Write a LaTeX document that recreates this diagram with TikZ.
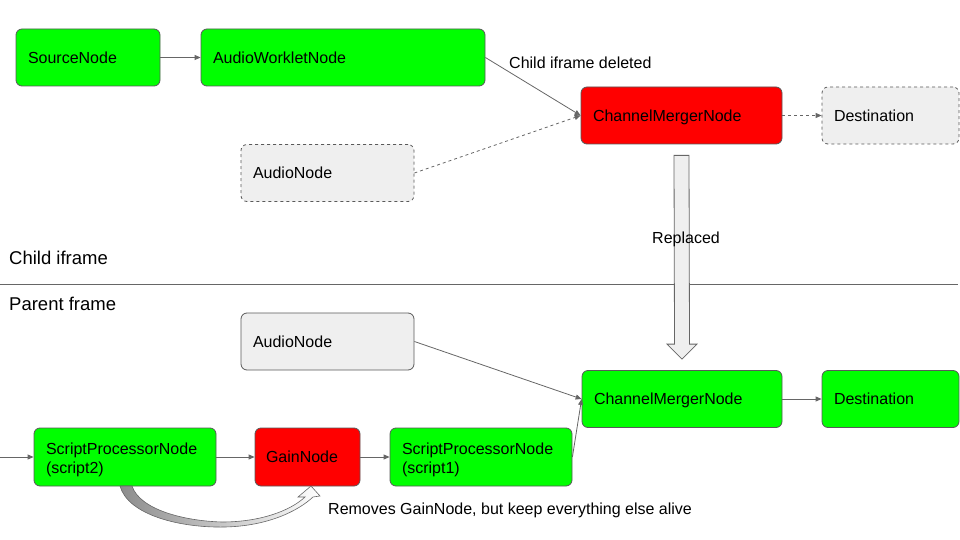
\documentclass[tikz,border=0pt]{standalone}
\usepackage{fontspec}
\setmainfont{Liberation Sans}
\usetikzlibrary{arrows.meta}
\usetikzlibrary{calc}
\definecolor{boxgreen}{HTML}{00FF00}
\definecolor{boxred}{HTML}{FF0000}
\definecolor{boxgray}{HTML}{EFEFEF}
\definecolor{edgegray}{HTML}{595959}
\definecolor{linegray}{HTML}{666666}

\begin{document}
\begin{tikzpicture}[x=1pt,y=-1pt,
    font=\fontsize{16}{19}\selectfont,
    box/.style={draw=edgegray,line width=0.8pt,rounded corners=6pt,inner xsep=12pt,
      minimum height=57pt,text depth=0pt,align=left},
    twoline/.style={minimum height=58pt,text depth=16pt},
    live/.style={box,fill=boxgreen},
    dead/.style={box,fill=boxred},
    idle/.style={box,fill=boxgray},
    gone/.style={box,fill=boxgray,dashed},
    wire/.style={draw=linegray,line width=0.8pt,-{Triangle[length=6pt,width=5pt]}},
    hollow/.style={draw=linegray,line width=0.8pt,fill=boxgray},
    note/.style={anchor=west,inner sep=0pt},
    framelabel/.style={note,font=\fontsize{18.5}{22}\selectfont}]
  \useasboundingbox (0,0) rectangle (960,540);
  % child iframe
  \node[live,text width=120pt] (src) at (88,57.5) {SourceNode};
  \node[live,text width=260pt] (worklet) at (343,57.5) {AudioWorkletNode};
  \node[dead,text width=177pt] (merger1) at (681.5,115.5) {ChannelMergerNode};
  \node[gone,text width=113pt] (dest1) at (890.5,115.5) {Destination};
  \node[gone,text width=149pt] (audio1) at (327.5,173) {AudioNode};
  \draw[wire] (src) -- (worklet);
  \draw[wire] (worklet.east) -- (merger1.west);
  \draw[wire,dashed] (audio1.east) -- (merger1.west);
  \draw[wire,dashed] (merger1) -- (dest1);
  \node[note] (deleted) at (509,62.5) {Child iframe deleted};
  % parent frame
  \node[idle,text width=149pt] (audio2) at (327.5,341.5) {AudioNode};
  \node[live,text width=176pt] (merger2) at (682,399) {ChannelMergerNode};
  \node[live,text width=113pt] (dest2) at (890.5,399) {Destination};
  \node[live,twoline,text width=158pt] (sp2) at (125,457) {ScriptProcessorNode\\(script2)};
  \node[dead,text width=83pt,minimum height=58pt,inner xsep=11pt] (gain) at (307.5,457) {GainNode};
  \node[live,twoline,text width=158pt] (sp1) at (481,457) {ScriptProcessorNode\\(script1)};
  \coordinate (in) at (0,457);
  \draw[wire] (in) -- (sp2);
  \draw[wire] (sp2) -- (gain);
  \draw[wire] (gain) -- (sp1);
  \draw[wire] (sp1.east) -- (merger2.west);
  \draw[wire] (audio2.east) -- (merger2.west);
  \draw[wire] (merger2) -- (dest2);
  % frame border
  \coordinate (lineL) at (0,284);
  \coordinate (lineR) at (958,284);
  \draw[linegray,line width=0.8pt] (lineL) -- (lineR);
  \node[framelabel] (child) at (9,257.5) {Child iframe};
  \node[framelabel] (parent) at (9,303.5) {Parent frame};
  % replaced arrow
  \coordinate (rtop) at ($(merger1.south)+(0,11)$);
  \coordinate (rtip) at ($(merger2.north)+(0,-11)$);
  \draw[hollow] ($(rtop)+(-7.5,0)$) -- ($(rtip)+(-7.5,-15)$) -- ($(rtip)+(-15,-15)$)
    -- (rtip) -- ($(rtip)+(15,-15)$) -- ($(rtip)+(7.5,-15)$) -- ($(rtop)+(7.5,0)$) -- cycle;
  \node (replaced) at (686,239) {Replaced};
  % curved arrow under the chain
  \draw[draw=linegray,line width=0.6pt,left color=black!45,right color=white]
    (120,486) .. controls (128,515) and (180,528) .. (225,527)
    .. controls (268,526) and (298,511) .. (313,497) -- (320,496) -- (311,486) -- (298,497) -- (305,497)
    .. controls (290,511) and (260,522) .. (222,522)
    .. controls (185,521) and (140,510) .. (132,486) -- cycle;
  \node[note] (removes) at (328,510) {Removes GainNode, but keep everything else alive};
\end{tikzpicture}
\end{document}
